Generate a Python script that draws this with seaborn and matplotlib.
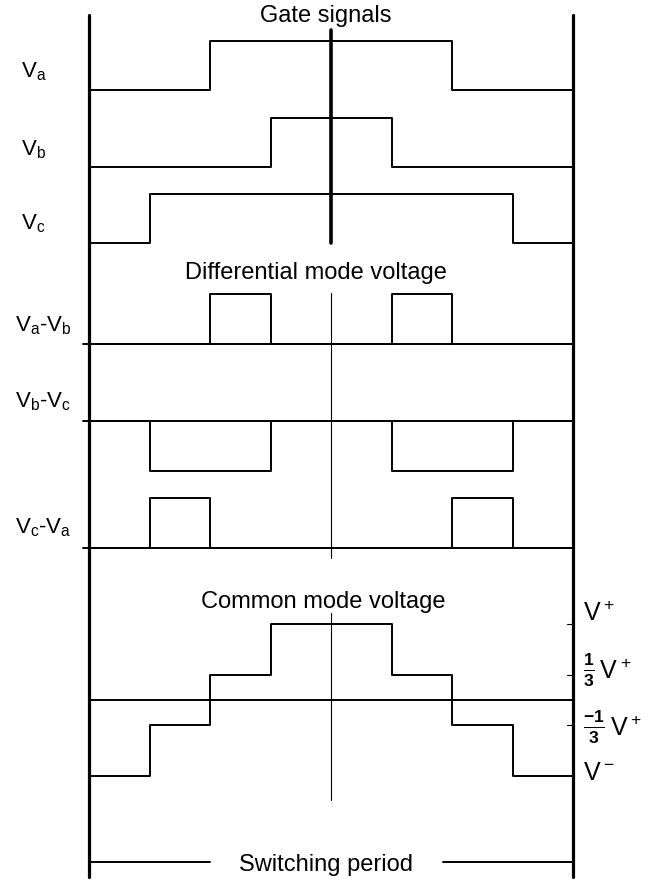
import numpy as np
import seaborn as sns
import matplotlib
matplotlib.use('Agg')
import matplotlib.pyplot as plt

# switching instants as a fraction of the switching period
edges = [0, 0.125, 0.25, 0.375, 0.625, 0.75, 0.875, 1.0]

# gate signals (0 = off, 1 = on) for each interval
va = [0, 0, 1, 1, 1, 0, 0]
vb = [0, 0, 0, 1, 0, 0, 0]
vc = [0, 1, 1, 1, 1, 1, 0]

# differential mode voltages
va_vb = [0, 0, 1, 0, 1, 0, 0]
vb_vc = [0, -1, -1, 0, -1, -1, 0]
vc_va = [0, 1, 0, 0, 0, 1, 0]

# common mode voltage, in units of V+
common = [-1, -1/3, 1/3, 1, 1/3, -1/3, -1]

gate_labels = [r'$\mathrm{V_a}$', r'$\mathrm{V_b}$', r'$\mathrm{V_c}$']
diff_labels = [r'$\mathrm{V_a}$-$\mathrm{V_b}$', r'$\mathrm{V_b}$-$\mathrm{V_c}$',
               r'$\mathrm{V_c}$-$\mathrm{V_a}$']
level_labels = [r'$\mathrm{V^+}$', r'$\mathbf{\frac{1}{3}}\,\mathrm{V^+}$',
                r'$\mathbf{\frac{-1}{3}}\,\mathrm{V^+}$', r'$\mathrm{V^-}$']

sns.set_theme(style='white')
plt.rcParams['font.family'] = ['Liberation Sans', 'DejaVu Sans']
plt.rcParams['text.color'] = 'black'
plt.rcParams['mathtext.fontset'] = 'custom'
plt.rcParams['mathtext.rm'] = 'Liberation Sans'
plt.rcParams['mathtext.bf'] = 'Liberation Sans:bold'

fig = plt.figure(figsize=(6.55, 8.82), dpi=100)
ax = fig.add_axes([0, 0, 1, 1])
# x in switching-period units (period spans pixels 89..573), y in pixels
x0, w = 89, 484
ax.set_xlim(-x0 / w, (655 - x0) / w)
ax.set_ylim(882, 0)
ax.axis('off')


def step(vals, base, amp, lw=1.4):
    xs = np.array(edges)
    ys = base - amp * np.array(vals + [vals[-1]], dtype=float)
    sns.lineplot(x=xs, y=ys, drawstyle='steps-post', estimator=None, sort=False,
                 color='black', lw=lw, ax=ax)


# frame of the switching period
ax.plot([0, 0], [15, 877], color='black', lw=2.3)
ax.plot([1, 1], [15, 877], color='black', lw=2.3)

# gate signals
for vals, base, lab, ly in zip([va, vb, vc], [90, 167, 243], gate_labels, [72, 150, 224]):
    step(vals, base, 49)
    ax.text(-x0 / w + 21 / w, ly, lab, fontsize=16, va='center', ha='left')
ax.plot([0.5, 0.5], [30, 243], color='black', lw=2.6)
ax.text(0.49, 16, 'Gate signals', fontsize=17, ha='center', va='center')

# differential mode
ax.text(0.468, 273, 'Differential mode voltage', fontsize=17, ha='center', va='center')
for vals, base, lab, ly in zip([va_vb, vb_vc, vc_va], [344, 421, 548], diff_labels,
                               [326, 402, 528]):
    ax.plot([-6 / w, 1], [base, base], color='black', lw=1.4)
    step(vals, base, 50)
    ax.text(-x0 / w + 15 / w, ly, lab, fontsize=16, va='center', ha='left')
ax.plot([0.5, 0.5], [293, 558], color='black', lw=0.8)

# common mode
ax.text(0.483, 602, 'Common mode voltage', fontsize=17, ha='center', va='center')
ax.plot([0, 1], [700, 700], color='black', lw=1.4)
step(common, 700, 76)
ax.plot([0.5, 0.5], [613, 800], color='black', lw=0.8)
for lv in [1, 1/3, -1/3]:
    ax.plot([1 - 6 / w, 1], [700 - 76 * lv] * 2, color='black', lw=0.8)
for lab, ly in zip(level_labels, [614, 670, 727, 773]):
    ax.text(1 + 10 / w, ly, lab, fontsize=18, va='center', ha='left')

# switching period marker
ax.plot([0, 0.25], [862, 862], color='black', lw=1.4)
ax.plot([0.731, 1], [862, 862], color='black', lw=1.4)
ax.text(0.49, 865, 'Switching period', fontsize=17, ha='center', va='center')

fig.savefig('out.png', dpi=100)
